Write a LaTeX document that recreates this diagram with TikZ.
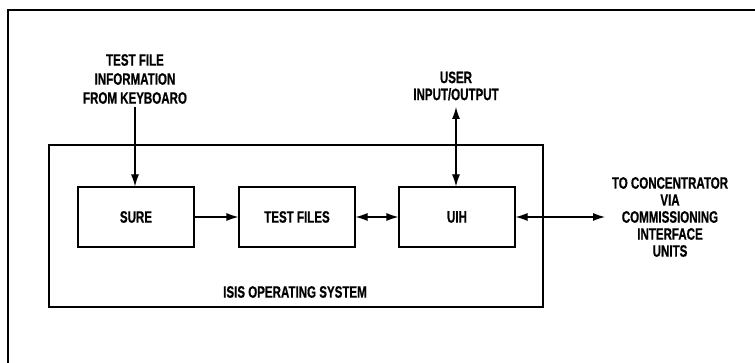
\documentclass[tikz,border=0pt]{standalone}
\usepackage{fontspec}
\setmainfont{Liberation Sans}[FakeStretch=0.7,BoldFeatures={FakeBold=0.6}]
\usetikzlibrary{arrows.meta}
\begin{document}
\begin{tikzpicture}[x=1pt,y=-1pt,
  lbl/.style={font=\bfseries\fontsize{16.5}{17}\selectfont, align=center, inner sep=0pt},
  blk/.style={draw, line width=1.1pt, minimum width=116pt, minimum height=60pt, inner sep=0pt, font=\bfseries\fontsize{16.5}{17}\selectfont},
  conn/.style={line width=1.1pt, -{Latex[length=12pt,width=8pt]}},
  dconn/.style={line width=1.1pt, {Latex[length=12pt,width=8pt]}-{Latex[length=12pt,width=8pt]}}]
\useasboundingbox (0,0) rectangle (755,363);
% outer frame (top and left edges visible)
\draw[line width=1.3pt] (8,364) -- (8,10) -- (756,10);
% ISIS operating system box
\node[draw, line width=1.3pt, minimum width=494pt, minimum height=162pt, inner sep=0pt] (isis) at (296,226) {};
\node[lbl] (isislbl) at (295,292) {ISIS OPERATING SYSTEM};
% blocks
\node[blk] (sure) at (136,217) {SURE};
\node[blk] (files) at (297,217) {TEST FILES};
\node[blk] (uih) at (457,217) {UIH};
% labels
\node[lbl, font=\bfseries\fontsize{16.5}{19}\selectfont] (kb) at (135,79) {TEST FILE\\INFORMATION\\FROM KEYBOARO};
\node[lbl] (user) at (456,86) {USER\\INPUT/OUTPUT};
\node[lbl] (conc) at (670,217) {TO CONCENTRATOR\\VIA\\COMMISSIONING\\INTERFACE\\UNITS};
\coordinate (kbend) at (135,107);
\coordinate (userend) at (456,107);
\coordinate (concend) at (605,217);
% connectors
\draw[conn] (kbend) -- (sure.north -| kbend);
\draw[dconn] (userend) -- (uih.north -| userend);
\draw[conn] (sure.east) -- (files.west);
\draw[dconn] (files.east) -- (uih.west);
\draw[dconn] (uih.east) -- (concend);
\end{tikzpicture}
\end{document}
